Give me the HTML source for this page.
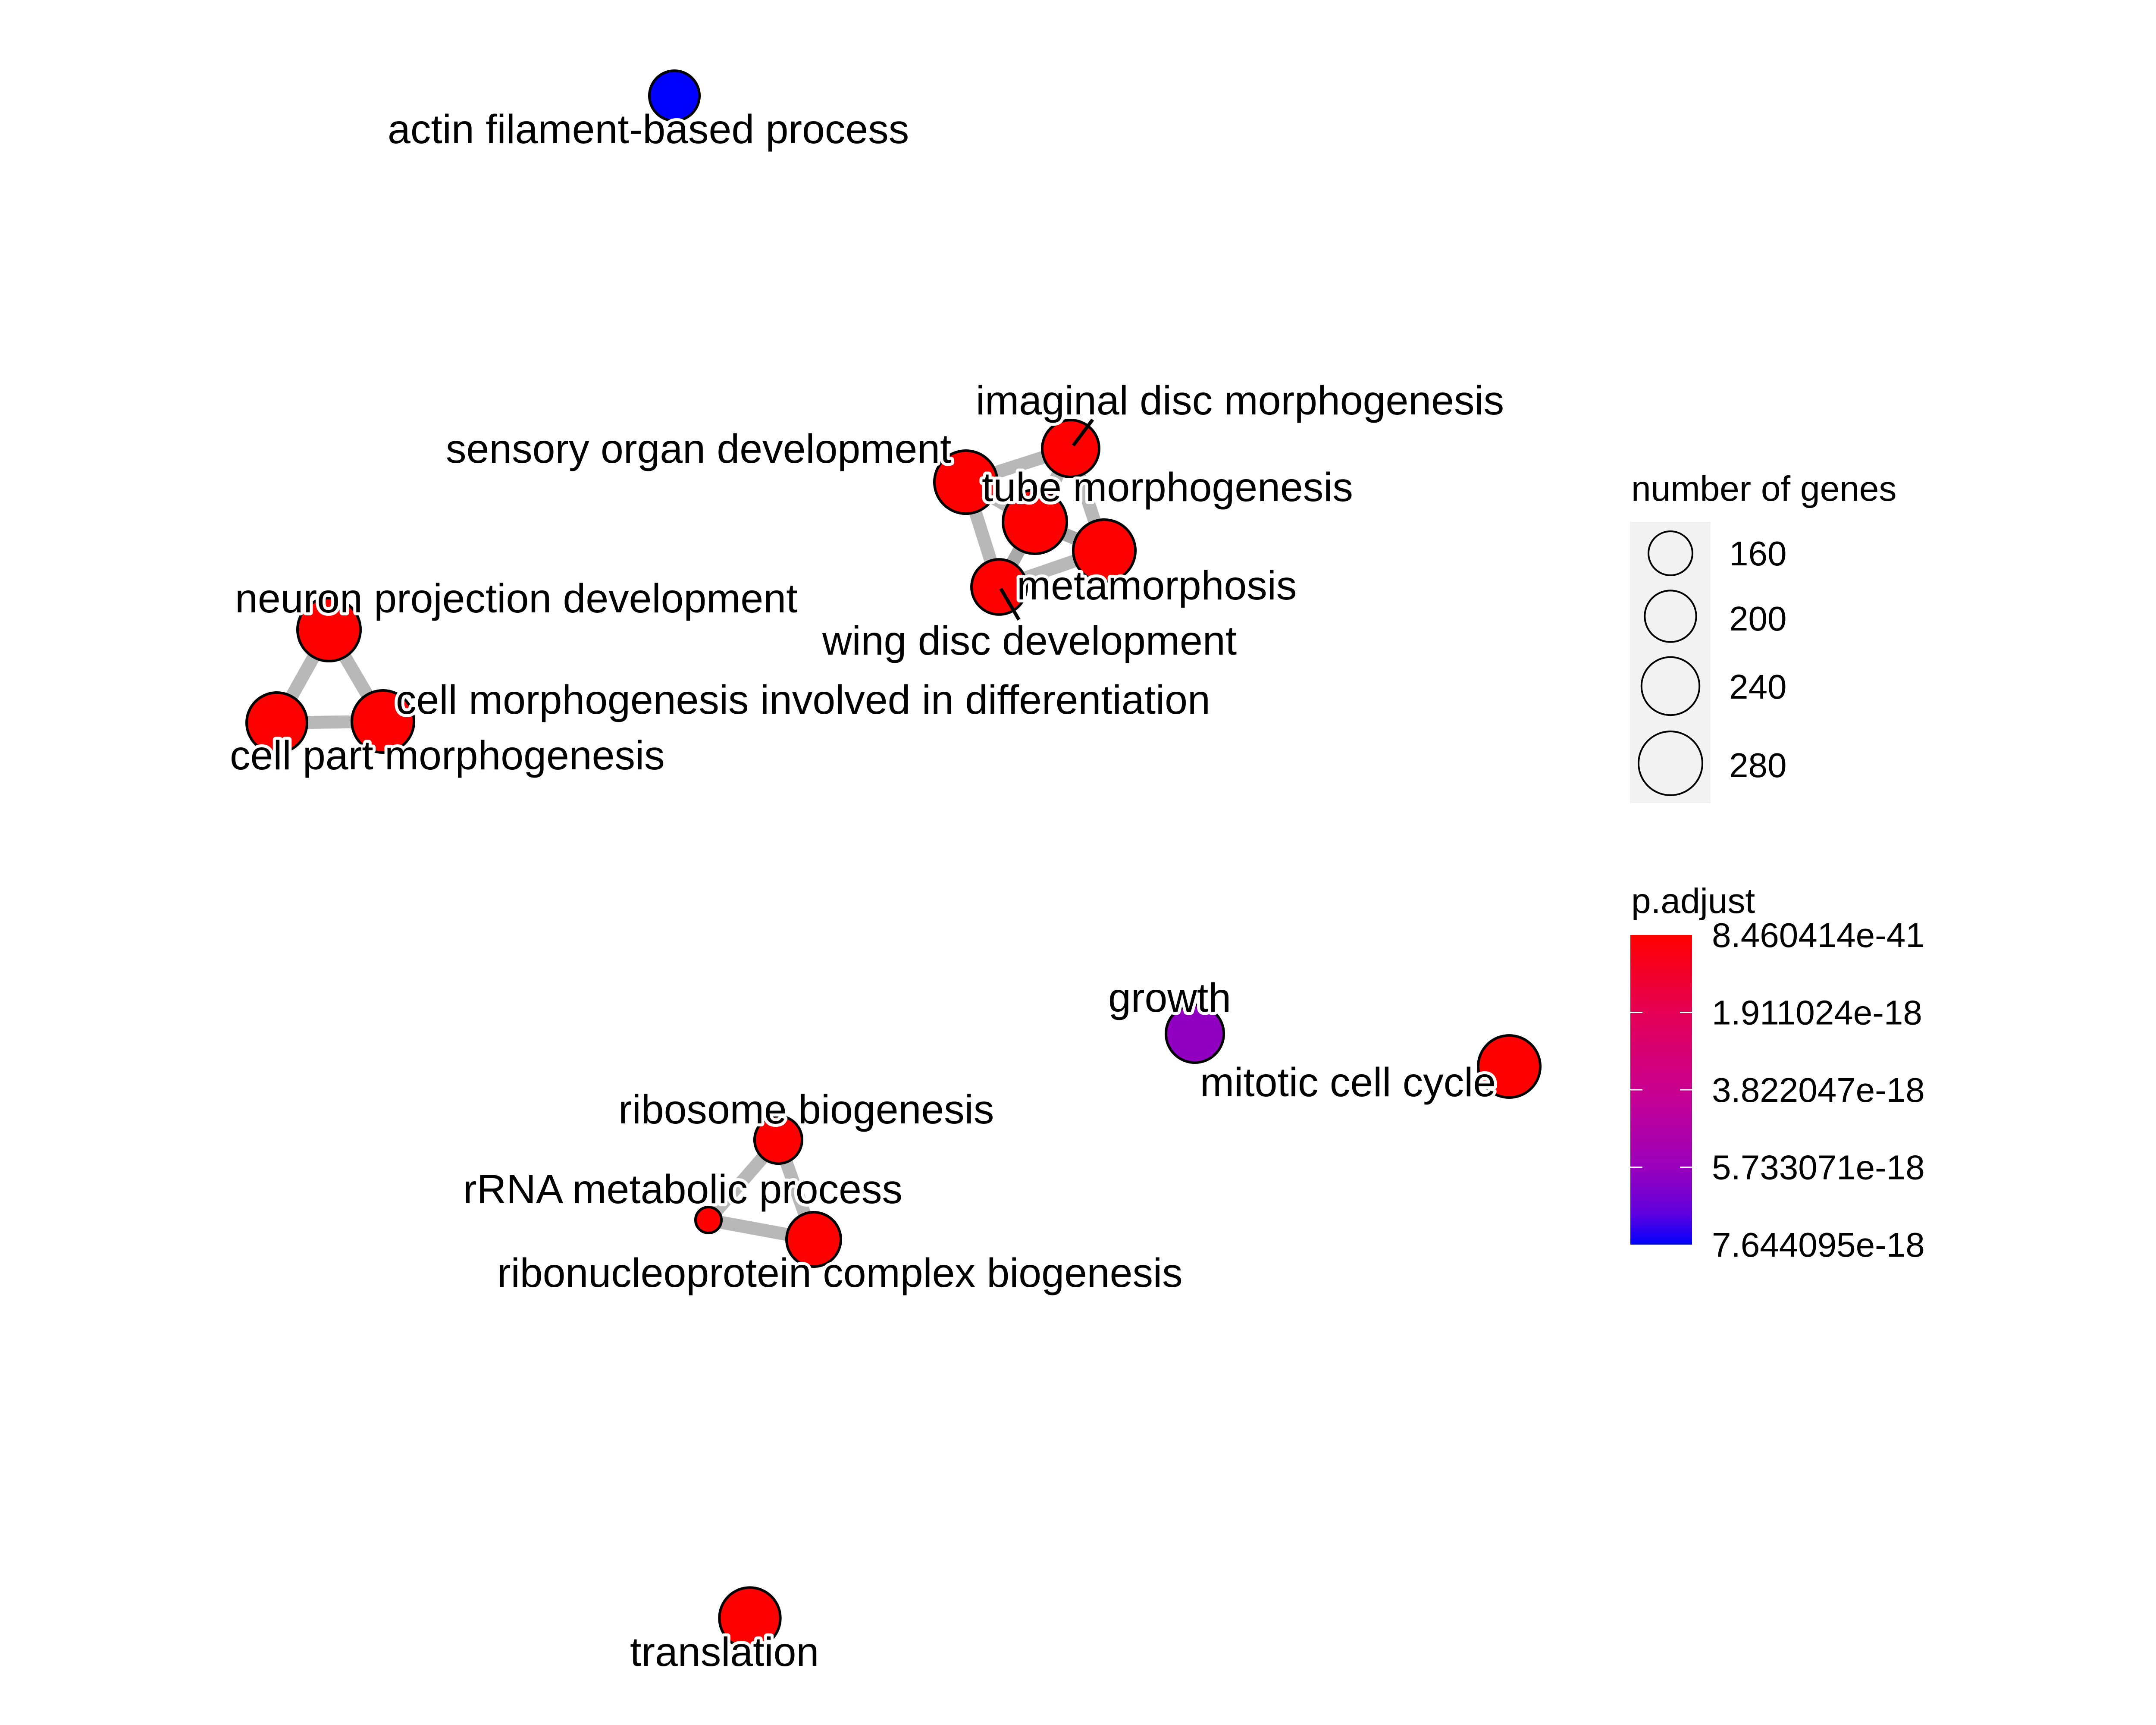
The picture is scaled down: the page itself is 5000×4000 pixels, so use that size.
<!DOCTYPE html>
<html><head><meta charset="utf-8"><style>
html,body{margin:0;padding:0;background:#fff;}
svg{display:block;font-family:"Liberation Sans",Arial,sans-serif;}
</style></head><body>
<svg id="chart" width="5000" height="4000" viewBox="0 0 5000 4000" xmlns="http://www.w3.org/2000/svg">
<rect width="5000" height="4000" fill="#fff"/>
<g id="edges"></g>
<g id="nodes"></g>
<g id="labels"></g>
<g id="legend-size"></g>
<g id="legend-color"></g>
</svg>
<script>
// ---- data ----
const terms = ["actin filament-based process","imaginal disc morphogenesis","sensory organ development","tube morphogenesis","metamorphosis","wing disc development","neuron projection development","cell morphogenesis involved in differentiation","cell part morphogenesis","growth","mitotic cell cycle","ribosome biogenesis","rRNA metabolic process","ribonucleoprotein complex biogenesis","translation"];
// layout coordinates (network layout units)
const layoutX = [15.64,24.83,22.40,24.00,25.61,23.17,7.63,8.88,6.42,27.71,35.00,18.05,16.43,18.87,17.39];
const layoutY = [2.22,10.40,11.18,12.10,12.77,13.61,14.60,16.73,16.76,23.97,24.73,26.43,28.29,28.74,37.52];
const geneCount = [192,233,274,280,268,222,274,268,256,239,268,178,89,217,260];
const pAdjust = [7.644e-18,1e-30,1e-35,1e-38,1e-33,1e-30,1e-32,1e-31,1e-31,5.9e-18,1e-36,1e-35,1e-30,1e-36,1e-40];
const edgeFrom = [2,2,2,1,1,3,3,5,6,6,8,11,11,12];
const edgeTo   = [1,5,3,3,4,4,5,4,7,8,7,12,13,13];
const edgeDark = [0,0,0,0,0,1,1,0,0,0,0,0,0,0];
// label positions (layout units; label anchor start, baseline)
const labelX = [8.99,22.63,10.34,22.77,23.58,19.07,5.45,9.18,5.33,25.70,27.83,14.34,10.74,11.53,14.61];
const labelY = [3.32,9.61,10.73,11.62,13.90,15.18,14.20,16.55,17.84,23.46,25.42,26.05,27.90,29.84,38.63];
const segFromX=[24.89,23.21], segFromY=[10.33,13.65], segToX=[25.34,23.63], segToY=[9.73,14.37];
const sizeBreaks = [160,200,240,280];
const colorTicks = ["8.460414e-41","1.911024e-18","3.822047e-18","5.733071e-18","7.644095e-18"];
const pMin = 8.460414e-41, pMax = 7.644095e-18;

// ---- scales ----
const sx = v => v*100, sy = v => v*100;
const rScale = n => Math.sqrt(Math.max(0, -1232 + 23.96*n));
const stops = [[0,[255,0,0]],[0.25,[230,0,85]],[0.5,[201,0,143]],[0.75,[154,0,188]],[0.9,[95,0,222]],[1,[0,0,255]]];
function colorScale(p){
  let t=(p-pMin)/(pMax-pMin); t=Math.max(0,Math.min(1,t));
  for(let i=1;i<stops.length;i++){ if(t<=stops[i][0]){const a=stops[i-1],b=stops[i];const f=(t-a[0])/(b[0]-a[0]);
    const c=a[1].map((v,k)=>Math.round(v+(b[1][k]-v)*f)); return `rgb(${c.join(',')})`;}}
  return 'rgb(0,0,255)';
}
const NS="http://www.w3.org/2000/svg";
function mk(tag,attrs,parent){const e=document.createElementNS(NS,tag);for(const k in attrs)e.setAttribute(k,attrs[k]);parent.appendChild(e);return e;}

const gE=document.getElementById('edges');
edgeFrom.forEach((f,i)=>{const t=edgeTo[i];
  const l=mk('line',{x1:sx(layoutX[f]),y1:sy(layoutY[f]),x2:sx(layoutX[t]),y2:sy(layoutY[t]),stroke:edgeDark[i]?'#a9a9a9':'#b8b8b8','stroke-width':30},gE);
  
  
});
const gN=document.getElementById('nodes');
terms.forEach((t,i)=>{
  const c=mk('circle',{cx:sx(layoutX[i]),cy:sy(layoutY[i]),r:rScale(geneCount[i]),fill:colorScale(pAdjust[i]),stroke:'#000','stroke-width':6},gN);
  
  
});
const gL=document.getElementById('labels');
segFromX.forEach((v,i)=>{
  const s=mk('line',{x1:sx(v),y1:sy(segFromY[i]),x2:sx(segToX[i]),y2:sy(segToY[i]),stroke:'#000','stroke-width':8},gL);
  
  
});
terms.forEach((t,i)=>{
  const tx=mk('text',{x:sx(labelX[i]),y:sy(labelY[i]),'font-size':95,fill:'#000',stroke:'#fff','stroke-width':14,'paint-order':'stroke','stroke-linejoin':'round'},gL);
  tx.textContent=t;
  
  
});

// size legend
const gS=document.getElementById('legend-size');
const st=mk('text',{x:3783,y:1161,'font-size':82,fill:'#000'},gS); st.textContent='number of genes';


const bg=mk('rect',{x:3780,y:1210,width:187,height:652,fill:'#f2f2f2'},gS);


const keyY=[1283,1429,1591,1770], labY=[1311,1462,1620,1802];
sizeBreaks.forEach((b,i)=>{
  const c=mk('circle',{cx:3874,cy:keyY[i],r:rScale(b),fill:'#f2f2f2',stroke:'#000','stroke-width':4},gS);
  
  
  const t=mk('text',{x:4010,y:labY[i],'font-size':80,fill:'#000'},gS); t.textContent=b;
  
  
});

// color legend
const gC=document.getElementById('legend-color');
const ct=mk('text',{x:3783,y:2117,'font-size':82,fill:'#000'},gC); ct.textContent='p.adjust';


const defs=mk('defs',{},gC);
const lg=mk('linearGradient',{id:'pgrad',x1:0,y1:0,x2:0,y2:1},defs);
stops.forEach(s=>mk('stop',{offset:s[0],'stop-color':`rgb(${s[1].join(',')})`},lg));
const bar=mk('rect',{x:3781,y:2168,width:143,height:718,fill:'url(#pgrad)'},gC);


colorTicks.forEach((lab,i)=>{
  const y=2168+718*i/(colorTicks.length-1);
  if(i>0&&i<colorTicks.length-1){
    mk('line',{x1:3781,y1:y,x2:3809,y2:y,stroke:'#fff','stroke-width':3},gC);
    mk('line',{x1:3896,y1:y,x2:3924,y2:y,stroke:'#fff','stroke-width':3},gC);
  }
  const t=mk('text',{x:3970,y:y+28,'font-size':80,fill:'#000'},gC); t.textContent=lab;
  
  
});
</script>
</body></html>
